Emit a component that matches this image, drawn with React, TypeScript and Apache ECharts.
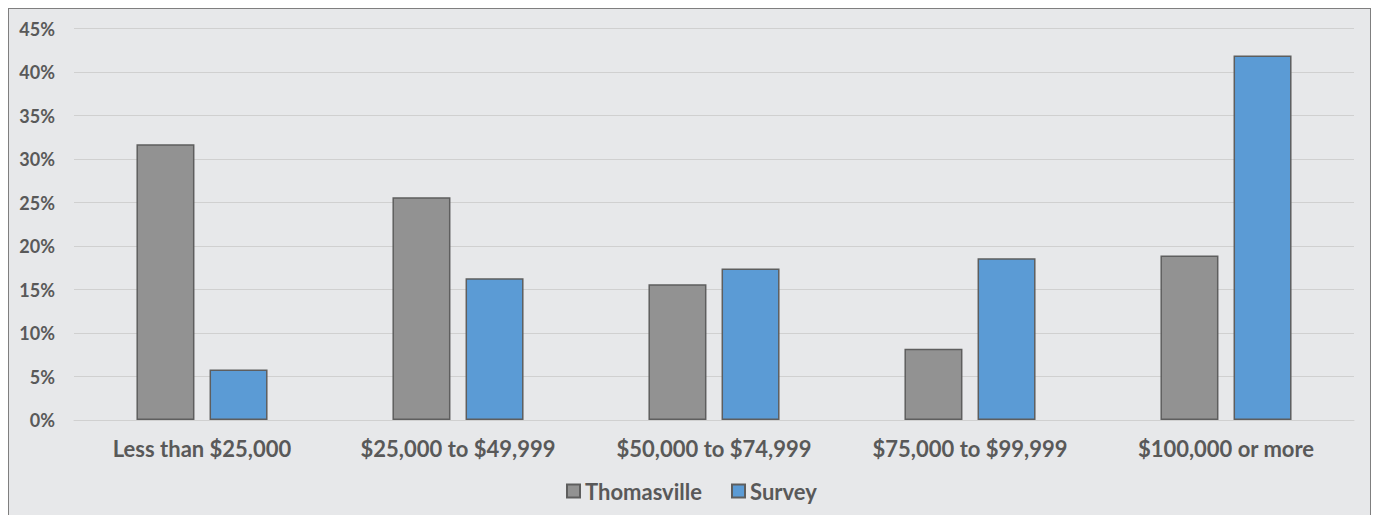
import React, { useEffect, useRef } from "react";
import * as echarts from "echarts";

const categories = [
  "Less than $25,000",
  "$25,000 to $49,999",
  "$50,000 to $74,999",
  "$75,000 to $99,999",
  "$100,000 or more",
];
const thomasville = [31.7, 25.6, 15.6, 8.2, 18.9];
const survey = [5.8, 16.3, 17.4, 18.6, 41.9];
const seriesNames = ["Thomasville", "Survey"];

const FONT = "Lato";
const TEXT = "#595959";

export default function App() {
  const ref = useRef<HTMLDivElement>(null);
  useEffect(() => {
    if (!ref.current) return;
    const chart = echarts.init(ref.current, null, { renderer: "svg" });
    chart.setOption({
      animation: false,
      backgroundColor: "transparent",
      grid: { left: 65, right: 16, top: 19.5, bottom: 96, containLabel: false },
      legend: {
        data: seriesNames,
        left: 552,
        top: 466,
        itemWidth: 13,
        itemHeight: 13,
        itemGap: 29,
        icon: "rect",
        textStyle: { fontFamily: FONT, fontWeight: "bold", fontSize: 22, color: TEXT },
      },
      xAxis: {
        type: "category",
        data: categories,
        axisLine: { show: true, lineStyle: { color: "#d0d0d0", width: 1 } },
        axisTick: { show: false },
        axisLabel: {
          margin: 17,
          fontFamily: FONT,
          fontWeight: "bold",
          fontSize: 22,
          color: TEXT,
        },
      },
      yAxis: {
        type: "value",
        min: 0,
        max: 45,
        interval: 5,
        axisLine: { show: false },
        axisTick: { show: false },
        splitLine: { lineStyle: { color: "#d0d0d0", width: 1 } },
        axisLabel: {
          formatter: "{value}%",
          margin: 19,
          fontFamily: FONT,
          fontWeight: "bold",
          fontSize: 18,
          color: TEXT,
        },
      },
      series: [
        {
          name: seriesNames[0],
          type: "bar",
          data: thomasville,
          barWidth: 58,
          barGap: "26%",
          itemStyle: { color: "#929292", borderColor: "#5e5e5e", borderWidth: 1.5 },
        },
        {
          name: seriesNames[1],
          type: "bar",
          data: survey,
          barWidth: 58,
          barGap: "26%",
          itemStyle: { color: "#5b9bd5", borderColor: "#5e5e5e", borderWidth: 1.5 },
        },
      ],
    });
    return () => chart.dispose();
  }, []);
  return (
    <div
      style={{
        position: "absolute",
        left: 8,
        top: 8,
        width: 1361,
        height: 506,
        border: "1px solid #7f7f7f",
        borderBottom: "none",
        background: "#e7e8ea",
        overflow: "hidden",
      }}
    >
      <div ref={ref} style={{ width: 1361, height: 507 }} />
    </div>
  );
}
